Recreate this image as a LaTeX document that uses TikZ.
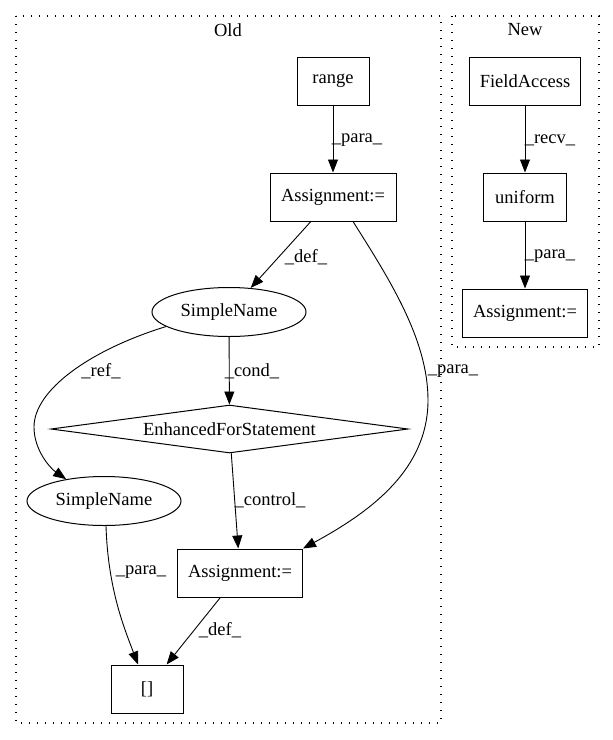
\documentclass[tikz,border=0pt]{standalone}
\usepackage{fontspec}
\setmainfont{Liberation Serif}
\usetikzlibrary{arrows.meta,shapes.geometric}
\tikzset{
  base/.style={font=\fontsize{18.5}{22}\selectfont, inner sep=0pt, line width=1pt},
  box/.style={base, draw, rectangle, minimum height=48pt},
  ell/.style={base, draw, ellipse, minimum width=154pt, minimum height=49pt},
  dia/.style={base, draw, diamond, minimum width=357pt, minimum height=48pt, aspect=7.4},
  edge/.style={line width=0.9pt, -{Triangle[length=13pt,width=10pt]}},
  lab/.style={font=\fontsize{18.5}{22}\selectfont, inner sep=0pt},
  cluster/.style={line width=1.2pt, dash pattern=on 1.4pt off 6.6pt}
}
\begin{document}
\begin{tikzpicture}[x=1pt,y=-1pt]
\useasboundingbox (0,0) rectangle (613,740);
% clusters
\draw[cluster] (16,16) rectangle (441,723);
\draw[cluster] (452,16) rectangle (599,347);
\node[lab] (tOld) at (228,30) {Old};
\node[lab] (tNew) at (525,30) {New};
% Old nodes
\node[box, minimum width=72pt] (rng) at (333,81) {range};
\node[box, minimum width=126pt] (a1) at (333,197) {Assignment:=};
\node[ell] (sn1) at (229,312) {SimpleName};
\node[dia] (fs) at (229.5,429) {EnhancedForStatement};
\node[ell] (sn2) at (104,501) {SimpleName};
\node[box, minimum width=125pt] (a2) at (240,573) {Assignment:=};
\node[box, minimum width=72pt] (br) at (147,689) {[]};
% New nodes
\node[box, minimum width=111pt] (fa) at (525,81) {FieldAccess};
\node[box, minimum width=83pt] (un) at (525,197) {uniform};
\node[box, minimum width=125pt] (a3) at (525,313) {Assignment:=};
% Old edges
\draw[edge] (rng) -- (a1);
\draw[edge] (a1) -- (sn1);
\draw[edge] ([xshift=20pt]a1.south) .. controls (390,280) and (428,340) .. (428,400)
   .. controls (428,470) and (370,512) .. (a2.north east);
\draw[edge] (sn1) -- (fs);
\draw[edge] (sn1.193) .. controls (90,350) and (34,390) .. (34,427)
   .. controls (34,450) and (50,468) .. (sn2.150);
\draw[edge] (fs) -- (a2);
\draw[edge] ([xshift=2pt]sn2.south) .. controls (108,590) and (125,630) .. ([xshift=-9pt]br.north);
\draw[edge] (a2) -- (br);
% New edges
\draw[edge] (fa) -- (un);
\draw[edge] (un) -- (a3);
% labels
\node[lab] (l1) at (357,140) {\_para\_};
\node[lab] (l2) at (306,257) {\_def\_};
\node[lab] (l3) at (101,371) {\_ref\_};
\node[lab] (l4) at (252,371) {\_cond\_};
\node[lab] (l5) at (453,371) {\_para\_};
\node[lab] (l6) at (270,500) {\_control\_};
\node[lab] (l7) at (141,572) {\_para\_};
\node[lab] (l8) at (220,630) {\_def\_};
\node[lab] (l9) at (550,140) {\_recv\_};
\node[lab] (l10) at (550,256) {\_para\_};
\end{tikzpicture}
\end{document}
